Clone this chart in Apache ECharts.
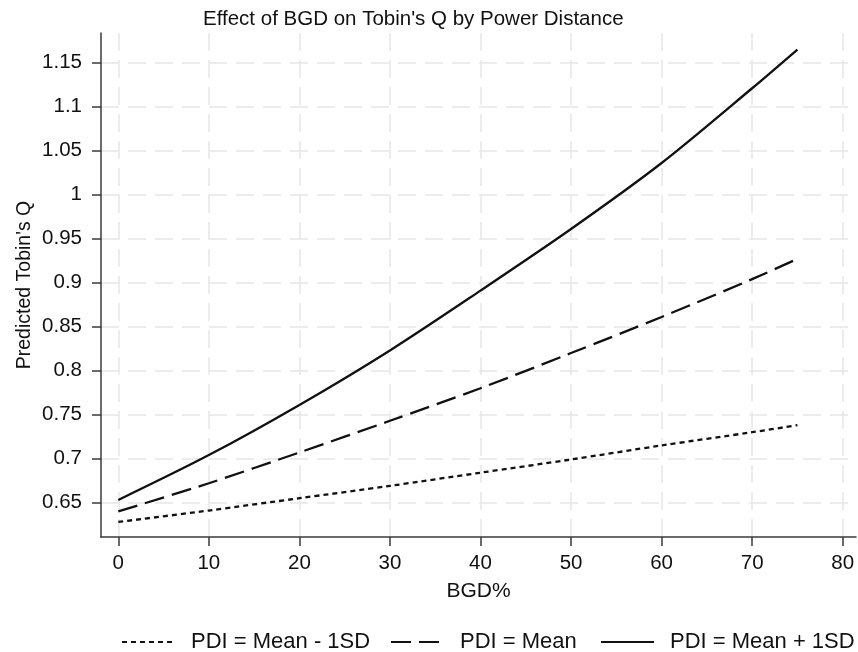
<!DOCTYPE html>
<html>
<head>
<meta charset="utf-8">
<title>Effect of BGD on Tobin's Q by Power Distance</title>
<script src="https://cdn.jsdelivr.net/npm/echarts@6/dist/echarts.min.js"></script>
<style>
  html, body { margin: 0; padding: 0; background: #ffffff; }
  #chart { width: 858px; height: 652px; }
</style>
</head>
<body>
<div id="chart"></div>
<script>
// BGD% values where the predictions were read
var bgd = [0, 10, 20, 30, 40, 50, 60, 70, 75]
// predicted Tobin's Q
var qLow = [0.628, 0.641, 0.655, 0.669, 0.684, 0.699, 0.715, 0.730, 0.738]
var qMean = [0.640, 0.672, 0.707, 0.743, 0.780, 0.820, 0.861, 0.904, 0.927]
var qHigh = [0.653, 0.704, 0.761, 0.823, 0.891, 0.961, 1.036, 1.121, 1.165]
var seriesNames = ['PDI = Mean - 1SD', 'PDI = Mean', 'PDI = Mean + 1SD']
var xTicks = [0, 10, 20, 30, 40, 50, 60, 70, 80]
var yTicks = [0.65, 0.7, 0.75, 0.8, 0.85, 0.9, 0.95, 1, 1.05, 1.1, 1.15]

var font = 'Liberation Sans, Arial, Helvetica, sans-serif'
var axisColor = '#3a3a3a'
var gridStyle = { color: '#e6e6e6', width: 1.5, type: [18, 9] }

function pairs (ys) {
  return bgd.map(function (x, i) { return [x, ys[i]] })
}

function lineSeries (name, ys, dash) {
  return {
    name: name,
    type: 'line',
    smooth: 0.3,
    symbol: 'none',
    silent: true,
    color: '#111111',
    lineStyle: { color: '#111111', width: 2.3, type: dash },
    data: pairs(ys)
  }
}

// one legend box per series so each sits where the original puts it
function legendAt (name, left) {
  return {
    left: left,
    top: 631,
    padding: 0,
    itemWidth: 53,
    itemHeight: 14,
    selectedMode: false,
    itemStyle: { opacity: 0 },
    data: [name],
    textStyle: { fontFamily: font, fontSize: 22, color: '#111111', padding: [0, 0, 0, 11] }
  }
}

var chart = echarts.init(document.getElementById('chart'), null, { renderer: 'canvas' })
chart.setOption({
  animation: false,
  backgroundColor: '#ffffff',
  title: {
    text: "Effect of BGD on Tobin's Q by Power Distance",
    left: 203,
    top: 9,
    padding: 0,
    textStyle: { fontFamily: font, fontSize: 20.5, fontWeight: 'normal', color: '#111111' }
  },
  grid: { left: 101, right: 2, top: 33, bottom: 115, containLabel: false },
  legend: [
    legendAt(seriesNames[0], 121),
    legendAt(seriesNames[1], 390),
    legendAt(seriesNames[2], 600)
  ],
  xAxis: {
    type: 'value',
    min: -1.91,
    max: 81.47,
    name: 'BGD%',
    nameLocation: 'middle',
    nameGap: 44,
    nameMoveOverlap: false,
    nameTextStyle: { fontFamily: font, fontSize: 21, color: '#111111' },
    axisLine: { show: true, onZero: false, lineStyle: { color: axisColor, width: 1.5 } },
    axisTick: { show: true, length: 9, customValues: xTicks, lineStyle: { color: axisColor, width: 1.5 } },
    axisLabel: { customValues: xTicks, margin: 16, fontFamily: font, fontSize: 20.5, color: '#111111' },
    splitLine: { show: true, lineStyle: gridStyle }
  },
  yAxis: {
    type: 'value',
    min: 0.6109,
    max: 1.1838,
    name: "Predicted Tobin's Q",
    nameLocation: 'middle',
    nameRotate: 90,
    nameGap: 66,
    nameMoveOverlap: false,
    nameTextStyle: { fontFamily: font, fontSize: 19.5, color: '#111111' },
    axisLine: { show: true, onZero: false, lineStyle: { color: axisColor, width: 1.5 } },
    axisTick: { show: true, length: 9, customValues: yTicks, lineStyle: { color: axisColor, width: 1.5 } },
    axisLabel: {
      customValues: yTicks,
      margin: 19,
      fontFamily: font,
      fontSize: 20.5,
      color: '#111111',
      formatter: function (v) { return String(Math.round(v * 100) / 100) }
    },
    splitLine: { show: true, lineStyle: gridStyle }
  },
  series: [
    lineSeries(seriesNames[0], qLow, [5, 4]),
    lineSeries(seriesNames[1], qMean, [20, 8]),
    lineSeries(seriesNames[2], qHigh, 'solid')
  ]
})
</script>
</body>
</html>
